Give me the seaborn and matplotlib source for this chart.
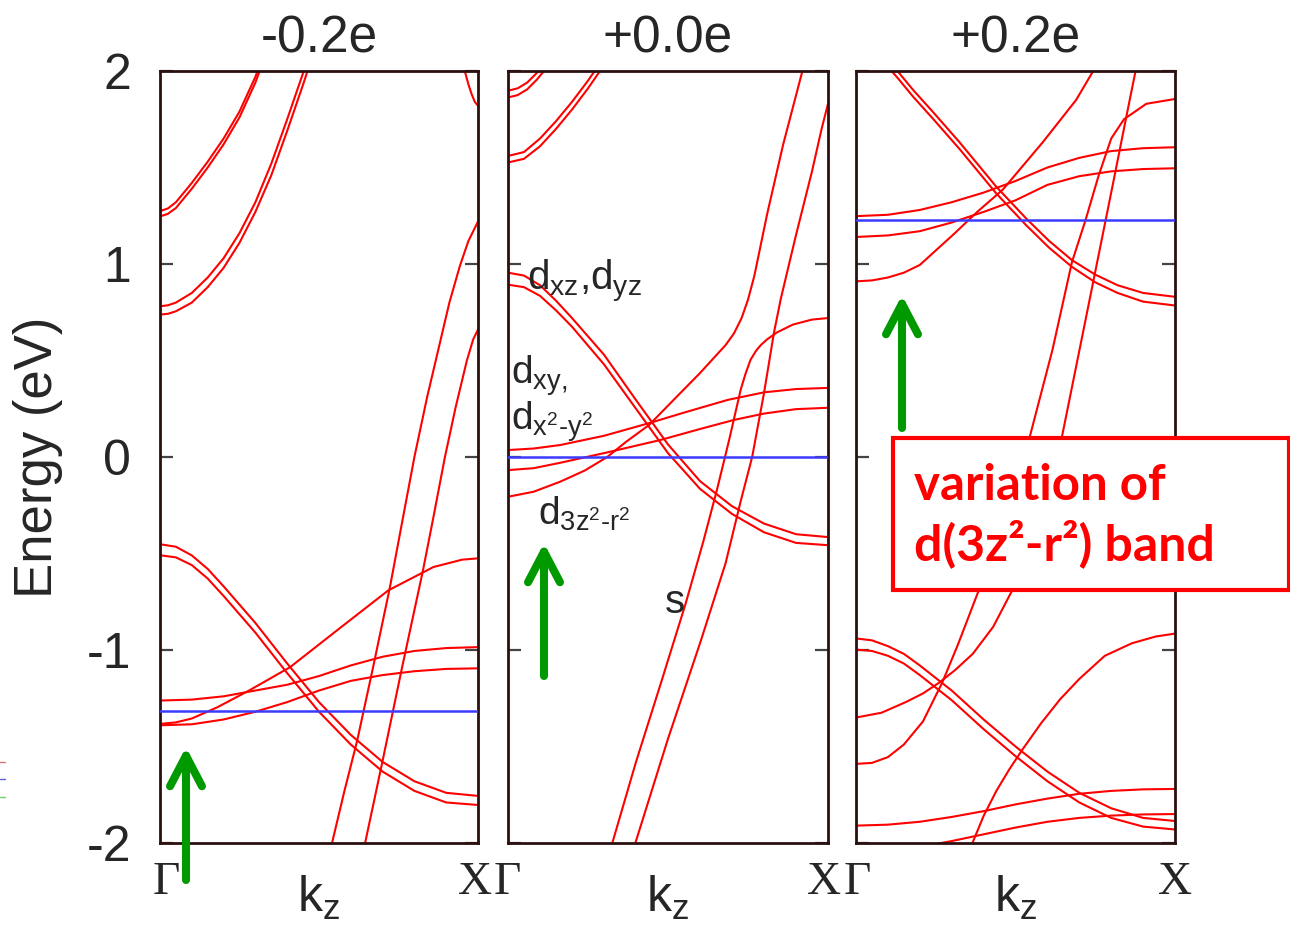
import numpy as np
import pandas as pd
import matplotlib
matplotlib.use("Agg")
import matplotlib.pyplot as plt
import seaborn as sns
from matplotlib.patches import FancyArrowPatch, Rectangle
from matplotlib.lines import Line2D

# ---------------------------------------------------------------------------
# Band energies (eV) along Gamma -> X (k in units of the path length)
# ---------------------------------------------------------------------------
K11 = [0, .1, .2, .3, .4, .5, .6, .7, .8, .9, 1.0]
K13 = [0, .05, .10, .15, .20, .30, .40, .50, .60, .70, .80, .90, 1.0]

# doping -0.2e
m02_hi1 = ([0, .025, .05, .10, .15, .20, .25, .30, .32], [1.274, 1.288, 1.32, 1.42, 1.53, 1.65, 1.79, 1.97, 2.06])
m02_hi2 = ([0, .025, .05, .10, .15, .20, .25, .30, .32], [1.246, 1.26, 1.29, 1.39, 1.50, 1.62, 1.76, 1.94, 2.03])
m02_mid1 = ([0, .025, .05, .10, .15, .20, .25, .30, .35, .40, .45, .47],
            [0.781, 0.786, 0.80, 0.85, 0.93, 1.03, 1.16, 1.32, 1.52, 1.75, 1.99, 2.08])
m02_mid2 = ([0, .025, .05, .10, .15, .20, .25, .30, .35, .40, .45, .47],
            [0.738, 0.742, 0.755, 0.80, 0.88, 0.98, 1.11, 1.27, 1.46, 1.69, 1.93, 2.03])
m02_cap = ([.95, .96, .97, .98, .99, 1.0], [2.05, 1.99, 1.93, 1.88, 1.84, 1.82])
m02_s1 = ([.53, .541, .58, .62, .67, .723, .76, .80, .84, .88, .91, .943, .97, 1.0],
          [-2.07, -2.0, -1.73, -1.47, -1.09, -0.675, -0.35, 0.0, 0.31, 0.59, 0.80, 0.99, 1.12, 1.22])
m02_s2 = ([.635, .645, .70, .76, .827, .86, .896, .93, .965, .985, 1.0],
          [-2.08, -2.0, -1.574, -1.10, -0.587, -0.31, 0.0, 0.26, 0.50, 0.61, 0.66])
m02_dxz1 = (K13, [-0.452, -0.465, -0.51, -0.58, -0.67, -0.86, -1.07, -1.27, -1.44, -1.58, -1.68, -1.74, -1.756])
m02_dxz2 = (K13, [-0.509, -0.52, -0.56, -0.63, -0.72, -0.91, -1.12, -1.32, -1.49, -1.63, -1.73, -1.79, -1.803])
m02_dz2 = ([0, .05, .10, .18, .28, .409, .556, .718, .86, .95, 1.0],
           [-1.383, -1.375, -1.355, -1.297, -1.21, -1.089, -0.899, -0.691, -0.570, -0.532, -0.525])
m02_dxy1 = (K11, [-1.262, -1.257, -1.24, -1.21, -1.18, -1.135, -1.08, -1.035, -1.005, -0.99, -0.985])
m02_dxy2 = (K11, [-1.39, -1.385, -1.36, -1.32, -1.27, -1.21, -1.16, -1.13, -1.11, -1.098, -1.095])

# doping +0.0e
p00_hiA1 = ([0, .03, .06, .09, .12], [1.898, 1.91, 1.94, 1.99, 2.05])
p00_hiA2 = ([0, .03, .06, .09, .12], [1.863, 1.875, 1.905, 1.955, 2.015])
p00_hiB1 = ([0, .05, .10, .15, .20, .25, .30], [1.56, 1.58, 1.65, 1.74, 1.84, 1.95, 2.07])
p00_hiB2 = ([0, .05, .10, .15, .20, .25, .30], [1.526, 1.545, 1.61, 1.70, 1.80, 1.91, 2.03])
p00_dxz1 = (K13, [0.955, 0.94, 0.89, 0.81, 0.72, 0.53, 0.295, 0.065, -0.125, -0.255, -0.345, -0.40, -0.415])
p00_dxz2 = (K13, [0.893, 0.88, 0.835, 0.76, 0.675, 0.48, 0.25, 0.02, -0.165, -0.295, -0.39, -0.445, -0.457])
p00_dz2 = ([0, .08, .163, .24, .31, .37, .441, .52, .60, .68, .706, .73, .75, .77, .79, .81, .86, .92, .94],
           [-0.206, -0.18, -0.128, -0.07, 0.0, 0.08, 0.166, 0.30, 0.435, 0.58, 0.64, 0.72, 0.815, 0.94, 1.10, 1.26,
            1.62, 2.0, 2.12])
p00_dxy1 = ([0, .08, .163, .30, .44, .55, .687, .80, .90, 1.0],
            [0.036, 0.044, 0.062, 0.11, 0.175, 0.23, 0.296, 0.335, 0.352, 0.358])
p00_dxy2 = ([0, .08, .163, .30, .476, .60, .706, .80, .90, 1.0],
            [-0.068, -0.058, -0.03, 0.02, 0.088, 0.145, 0.192, 0.225, 0.248, 0.255])
p00_s1 = ([.315, .326, .40, .48, .555, .61, .653, .691, .727, .742, .758, .775, .79, .81, .84, .89, .95, 1.0],
          [-2.06, -2.0, -1.58, -1.16, -0.76, -0.44, -0.17, 0.088, 0.348, 0.43, 0.504, 0.55, 0.58, 0.61, 0.645,
           0.686, 0.712, 0.72])
p00_s2 = ([.39, .398, .50, .603, .68, .727, .763, .80, .831, .852, .90, .95, .98, 1.0],
          [-2.05, -2.0, -1.46, -0.95, -0.55, -0.23, 0.0, 0.331, 0.643, 0.816, 1.15, 1.48, 1.70, 1.83])

# doping +0.2e
p02_dxz1 = ([.08, .13, .18, .24, .325, .44, .534, .605, .677, .75, .82, .90, 1.0],
            [2.10, 2.0, 1.90, 1.79, 1.63, 1.40, 1.235, 1.12, 1.02, 0.945, 0.89, 0.85, 0.83])
p02_dxz2 = ([.08, .13, .18, .24, .325, .44, .534, .605, .677, .75, .82, .90, 1.0],
            [2.06, 1.965, 1.865, 1.755, 1.595, 1.365, 1.20, 1.085, 0.985, 0.905, 0.85, 0.805, 0.785])
p02_dxy1 = (K11, [1.248, 1.255, 1.28, 1.32, 1.37, 1.43, 1.50, 1.55, 1.585, 1.60, 1.605])
p02_dxy2 = (K11, [1.14, 1.148, 1.17, 1.215, 1.27, 1.33, 1.41, 1.455, 1.48, 1.492, 1.496])
p02_dz2 = ([0, .05, .10, .15, .20, .25, .31, .38, .46, .585, .69, .74, .77],
           [0.91, 0.915, 0.93, 0.955, 0.995, 1.07, 1.16, 1.27, 1.385, 1.63, 1.85, 1.99, 2.07])
p02_s1 = ([0, .05, .10, .15, .21, .27, .32, .385, .45, .544, .616, .677, .72, .76, .80, .84, .91, 1.0],
          [-1.59, -1.585, -1.555, -1.49, -1.37, -1.17, -0.97, -0.69, -0.39, 0.10, 0.556, 1.01, 1.23, 1.455, 1.65,
           1.75, 1.83, 1.855])
p02_s2 = ([0, .08, .156, .21, .26, .31, .366, .43, .49, .57, .645, .70, .75, .80, .858, .88],
          [-1.35, -1.325, -1.27, -1.225, -1.17, -1.105, -1.02, -0.88, -0.69, -0.31, 0.10, 0.55, 0.96, 1.37, 1.85,
           2.03])
p02_low = ([.35, .365, .40, .44, .48, .52, .58, .64, .70, .78, .865, .94, 1.0],
           [-2.06, -2.0, -1.86, -1.73, -1.62, -1.52, -1.38, -1.255, -1.15, -1.03, -0.965, -0.93, -0.915])
p02_dxzL1 = (K13, [-0.94, -0.95, -0.98, -1.02, -1.08, -1.21, -1.36, -1.50, -1.63, -1.74, -1.82, -1.87, -1.886])
p02_dxzL2 = (K13, [-0.998, -1.005, -1.03, -1.07, -1.13, -1.26, -1.41, -1.55, -1.68, -1.79, -1.87, -1.915, -1.93])
p02_dxyL1 = (K11, [-1.91, -1.905, -1.89, -1.865, -1.835, -1.80, -1.77, -1.745, -1.73, -1.722, -1.72])
p02_dxyL2 = (K11, [-2.05, -2.04, -2.02, -1.99, -1.955, -1.92, -1.89, -1.87, -1.858, -1.852, -1.85])

panel_titles = ["-0.2e", "+0.0e", "+0.2e"]
fermi_levels = [-1.318, 0.0, 1.226]
panel_bands = [
    [m02_hi1, m02_hi2, m02_mid1, m02_mid2, m02_cap, m02_s1, m02_s2,
     m02_dxz1, m02_dxz2, m02_dz2, m02_dxy1, m02_dxy2],
    [p00_hiA1, p00_hiA2, p00_hiB1, p00_hiB2, p00_dxz1, p00_dxz2, p00_dz2,
     p00_dxy1, p00_dxy2, p00_s1, p00_s2],
    [p02_dxz1, p02_dxz2, p02_dxy1, p02_dxy2, p02_dz2, p02_s1, p02_s2,
     p02_low, p02_dxzL1, p02_dxzL2, p02_dxyL1, p02_dxyL2],
]
y_ticks = [-2, -1, 0, 1, 2]
y_tick_labels = ["-2", "-1", "0", "1", "2"]
gamma_label, x_label = "\u0393", "X"

# tidy table for seaborn
rows = []
for p, bands in enumerate(panel_bands):
    for b, (ks, es) in enumerate(bands):
        for k, e in zip(ks, es):
            rows.append({"panel": p, "band": b, "k": k, "E": e})
df = pd.DataFrame(rows)

# ---------------------------------------------------------------------------
sns.set_style("ticks")
plt.rcParams["font.family"] = ["Liberation Sans", "DejaVu Sans"]
plt.rcParams["mathtext.fontset"] = "custom"
plt.rcParams["mathtext.rm"] = "Liberation Sans"
plt.rcParams["mathtext.it"] = "Liberation Sans:italic"

W, H = 1290, 934
fig = plt.figure(figsize=(W / 100, H / 100), dpi=100)
fig.patch.set_facecolor("white")


def fx(x):
    return x / W


def fy(y):
    return 1 - y / H


ax_left = [160, 508, 856]
ax_width = [318, 320, 319]
ax_top, ax_bottom = 71, 843
axes = [fig.add_axes([fx(l), fy(ax_bottom), w / W, (ax_bottom - ax_top) / H])
        for l, w in zip(ax_left, ax_width)]

# path-end labels: (x in axes fraction, horizontal alignment)
gamma_pos = [(0.019, "center"), (-0.044, "left"), (-0.038, "left")]
x_pos = [(1.044, "right"), (1.041, "right"), (1.0, "center")]
path_label_y = -0.024

for i, ax in enumerate(axes):
    sub = df[df.panel == i]
    sns.lineplot(data=sub, x="k", y="E", units="band", estimator=None, sort=False,
                 color="#ff0000", linewidth=1.5, ax=ax, legend=False)
    ax.axhline(fermi_levels[i], color="#3b3bff", linewidth=1.8, zorder=3)
    ax.set_xlim(0, 1)
    ax.set_ylim(-2, 2)
    ax.set_yticks(y_ticks)
    ax.set_yticklabels(y_tick_labels)
    ax.set_xticks([])
    ax.tick_params(axis="y", direction="in", length=9.5, width=1.6, color="#444444",
                   left=True, right=True, labelleft=(i == 0), labelsize=36, pad=21)
    ax.set_xlabel(r"k$_\mathregular{z}$", fontsize=36)
    ax.xaxis.set_label_coords(0.5, -0.040)
    ax.set_ylabel("")
    ax.set_title(panel_titles[i], fontsize=37, pad=13)
    for sp in ax.spines.values():
        sp.set_color("#2b1010")
        sp.set_linewidth(2.0)
    gx, gha = gamma_pos[i]
    xx, xha = x_pos[i]
    ax.text(gx, path_label_y, gamma_label, transform=ax.transAxes, ha=gha, va="top",
            fontsize=34, family="Liberation Serif")
    ax.text(xx, path_label_y, x_label, transform=ax.transAxes, ha=xha, va="top",
            fontsize=34, family="Liberation Serif")

axes[0].set_ylabel("Energy (eV)", fontsize=38)
axes[0].yaxis.set_label_coords(-0.305, 0.5)

# orbital labels in the neutral panel
lab_size = 28
ax2 = axes[1]
ax2.text(0.06, 0.865, r"d$_\mathregular{xz}$,d$_\mathregular{yz}$", fontsize=29, va="baseline")
ax2.text(0.01, 0.378, r"d$_\mathregular{xy,}$", fontsize=lab_size, va="baseline")
ax2.text(0.01, 0.142, r"d$_{\mathregular{x}^{\mathregular{2}}\text{-}\mathregular{y}^{\mathregular{2}}}$",
         fontsize=lab_size, va="baseline")
ax2.text(0.095, -0.352, r"d$_{\mathregular{3z}^{\mathregular{2}}\text{-}\mathregular{r}^{\mathregular{2}}}$",
         fontsize=lab_size, va="baseline")
ax2.text(0.49, -0.808, "s", fontsize=29, va="baseline")

# green arrows marking the d(3z^2-r^2) band bottom
green = "#009900"
for (x0, y0, y1) in [(186, 880, 747), (544, 676, 543), (902, 428, 295)]:
    arr = FancyArrowPatch((fx(x0), fy(y0)), (fx(x0), fy(y1)), transform=fig.transFigure,
                          arrowstyle="->,head_length=22,head_width=11.5", mutation_scale=1,
                          linewidth=5.8, color=green, capstyle="round", joinstyle="round",
                          shrinkA=0, shrinkB=0)
    fig.add_artist(arr)

# callout box
fig.add_artist(Rectangle((fx(893), fy(590)), (1289 - 893) / W, (590 - 438) / H,
                         transform=fig.transFigure, facecolor="white",
                         edgecolor="#ff0000", linewidth=3, zorder=4))
fig.text(fx(914), fy(500), "variation of", color="#ff0000", fontsize=35.5,
         fontweight="bold", family="Lato", va="baseline", zorder=5)
fig.text(fx(914), fy(560), "d(3z\u00b2-r\u00b2) band", color="#ff0000", fontsize=36,
         fontweight="bold", family="Lato", va="baseline", zorder=5)

# small colour keys at the left edge
for yy, c in [(762, "#e07070"), (779, "#6060e0"), (797, "#70d070")]:
    fig.add_artist(Line2D([0, fx(5)], [fy(yy), fy(yy)], transform=fig.transFigure,
                          color=c, linewidth=1.0))

fig.savefig("out.png", dpi=100, facecolor="white")
